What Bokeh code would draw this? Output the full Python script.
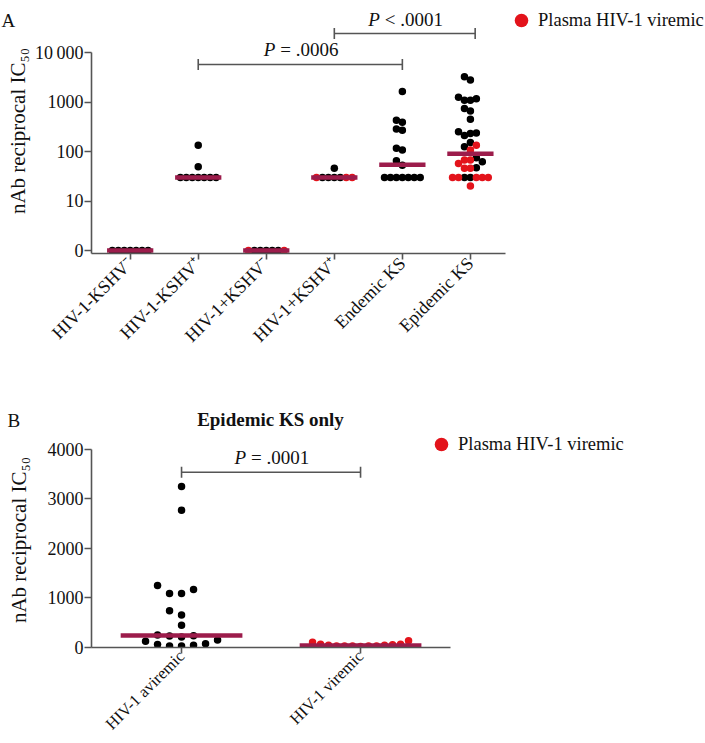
import math
from bokeh.plotting import figure
from bokeh.models import Range1d, FixedTicker, Legend, LegendItem, Label
from bokeh.layouts import column
from bokeh.embed import file_html
from bokeh.resources import INLINE
from bokeh.core.properties import value

FONT = "Liberation Serif"
BLACK = "#000000"
RED = "#E3131B"
MEDIAN = "#9C1C4B"
AXIS = "#555555"
TEXT = "#111111"

# ---------------- data ----------------
categories_top = ["HIV-1-KSHV\u207b", "HIV-1-KSHV\u207a", "HIV-1+KSHV\u207b",
                  "HIV-1+KSHV\u207a", "Endemic KS", "Epidemic KS"]
g0_black = [0, 0, 0, 0, 0, 0, 0]
g0_red = []
g1_black = [30, 30, 30, 30, 30, 30, 30, 133, 49]
g1_red = []
g2_black = [0, 0, 0, 0, 0]
g2_red = [0, 0]
g3_black = [30, 30, 30, 30, 46]
g3_red = [30, 30, 30]
endemic_ks = [1630, 430, 390, 284, 270, 116, 107, 65, 53, 30, 30, 30, 30, 30, 30, 30]
epidemic_aviremic = [3250, 2770, 1250, 1170, 1090, 1090, 740, 655, 450, 250,
                     236, 230, 210, 152, 125, 75, 62, 47, 30, 30]
epidemic_viremic = [134, 107, 67, 67, 57, 46, 46, 30, 30, 30, 30, 30, 20]
medians_top = [0, 30, 0, 30, 54, 90]
top_tick_values = [1, 10, 100, 1000, 10000]
top_tick_labels = ["0", "10", "100", "1000", "10\u2009000"]

categories_bottom = ["HIV-1 aviremic", "HIV-1 viremic"]
medians_bottom = [240, 40]
bottom_tick_values = [0, 1000, 2000, 3000, 4000]

p_top_labels = ["= .0006", "< .0001"]
p_top_from = [1, 3]
p_top_to = [4, 5.07]
p_top_y = [5725, 24200]
p_bottom_labels = ["= .0001"]
p_bottom_from = [0]
p_bottom_to = [1]
p_bottom_y = [3538]

legend_label = "Plasma HIV-1 viremic"
panel_title_bottom = "Epidemic KS only"

# ---------------- geometry helpers ----------------
TOP_CAT_PX = 68.6
TOP_DEC_PX = 49.5
BOT_CAT_PX = 179.0
BOT_UNIT_PX = 0.04975


def swarm(vals, ypx, step_px, thr_px, cat_px, max_px):
    order = sorted(range(len(vals)), key=lambda i: vals[i])
    cands = [0] + [s for j in range(1, 80) for s in (-j, j)]
    placed = []
    slots = [0] * len(vals)
    for i in order:
        y = ypx(vals[i])
        chosen = 0
        for s in cands:
            if all(ps != s or abs(py - y) >= thr_px for ps, py in placed):
                chosen = s
                break
        slots[i] = chosen
        placed.append((chosen, y))
    offs = [s * step_px for s in slots]
    m = max([abs(o) for o in offs] + [0])
    k = min(1.0, max_px / m) if m > 0 else 1.0
    return [o * k / cat_px for o in offs]


def top_ypx(v):
    return math.log10(v) * TOP_DEC_PX if v > 0 else 0.0


def bot_ypx(v):
    return v * BOT_UNIT_PX


def logpos(v):
    return v if v > 0 else 1


def style(p):
    for ax in (p.xaxis[0], p.yaxis[0]):
        ax.axis_line_color = AXIS
        ax.axis_line_width = 1.6
        ax.major_tick_line_color = AXIS
        ax.major_tick_line_width = 1.6
        ax.major_tick_in = 0
        ax.minor_tick_line_color = None
        ax.major_label_text_font = FONT
        ax.major_label_text_color = TEXT
        ax.axis_label_text_font = FONT
        ax.axis_label_text_font_style = "normal"
        ax.axis_label_text_color = TEXT
    p.xgrid.visible = False
    p.ygrid.visible = False
    p.outline_line_color = None
    p.background_fill_color = "white"
    p.border_fill_color = "white"


def add_p_text(p, xs_from, xs_to, ys, labels):
    cx = [(a + b) / 2 for a, b in zip(xs_from, xs_to)]
    p.text(x=cx, y=ys, text=["P"] * len(cx), text_align="right",
           text_baseline="bottom", x_offset=-25, y_offset=-4,
           text_font=value(FONT), text_font_style="italic",
           text_font_size="19px", text_color=TEXT)
    p.text(x=cx, y=ys, text=labels, text_align="left",
           text_baseline="bottom", x_offset=-20, y_offset=-4,
           text_font=value(FONT), text_font_size="19px", text_color=TEXT)


def make_legend(renderer, loc):
    return Legend(items=[LegendItem(label=legend_label, renderers=[renderer])],
                  location=loc, glyph_width=34, glyph_height=38,
                  label_standoff=0, padding=0, margin=0, spacing=0,
                  border_line_color=None, background_fill_alpha=0,
                  label_text_font=FONT, label_text_font_size="18.5px",
                  label_text_color=TEXT, label_height=38)


# ---------------- panel A ----------------
Y0_TOP = 10 ** (-3 / TOP_DEC_PX)
p1 = figure(width=705, height=430, output_backend="svg", toolbar_location=None,
            x_range=Range1d(-0.5685, 8.455),
            y_range=Range1d(Y0_TOP, 10 ** 4.8889),
            y_axis_type="log",
            min_border_left=86, min_border_right=0, min_border_top=8,
            min_border_bottom=177)
style(p1)

groups_top = [(g0_black, g0_red), (g1_black, g1_red), (g2_black, g2_red),
              (g3_black, g3_red), (endemic_ks, []),
              (epidemic_aviremic, epidemic_viremic)]
red_renderer = None
for i, (blk, red) in enumerate(groups_top):
    vals = blk + red
    offs = swarm(vals, top_ypx, 6, 7, TOP_CAT_PX, 18)
    nb = len(blk)
    p1.scatter([i + o for o in offs[:nb]], [logpos(v) for v in blk],
               size=7.5, fill_color=BLACK, line_color=None)
    if red:
        r = p1.scatter([i + o for o in offs[nb:]], [logpos(v) for v in red],
                       size=7.5, fill_color=RED, line_color=None)
        red_renderer = r

p1.segment(x0=[i - 0.34 for i in range(len(medians_top))],
           x1=[i + 0.34 for i in range(len(medians_top))],
           y0=[logpos(m) for m in medians_top], y1=[logpos(m) for m in medians_top],
           line_color=MEDIAN, line_width=4.5)

capf = 10 ** (5.5 / TOP_DEC_PX)
p1.segment(x0=p_top_from, x1=p_top_to, y0=p_top_y, y1=p_top_y,
           line_color=AXIS, line_width=1.6)
p1.segment(x0=p_top_from + p_top_to, x1=p_top_from + p_top_to,
           y0=[y / capf for y in p_top_y] * 2, y1=[y * capf for y in p_top_y] * 2,
           line_color=AXIS, line_width=1.6)
add_p_text(p1, p_top_from, p_top_to, p_top_y, p_top_labels)

p1.xaxis.ticker = FixedTicker(ticks=list(range(len(categories_top))))
p1.xaxis.major_label_overrides = {i: c for i, c in enumerate(categories_top)}
p1.xaxis.bounds = (-0.5685, 5.51)
p1.xaxis.major_label_orientation = math.pi / 4
p1.xaxis.major_label_text_font_size = "18px"
p1.xaxis.major_tick_out = 6
p1.xaxis.major_label_standoff = 1

p1.yaxis.ticker = FixedTicker(ticks=top_tick_values)
p1.yaxis.major_label_overrides = dict(zip(top_tick_values, top_tick_labels))
p1.yaxis.bounds = (Y0_TOP, 10000)
p1.yaxis.major_label_text_font_size = "18px"
p1.yaxis.major_tick_out = 7
p1.yaxis.major_label_standoff = 1
p1.yaxis.axis_label = "nAb reciprocal IC\u2085\u2080"
p1.yaxis.axis_label_text_font_size = "21px"
p1.yaxis.axis_label_standoff = 2

p1.add_layout(make_legend(red_renderer, (413, 214)))

# panel letters and the lower panel's heading, placed in canvas pixels
p1.add_layout(Label(x=1, y=20, x_units="canvas", y_units="canvas", text="A",
                    text_font=FONT, text_font_size="19px", text_color=TEXT,
                    text_baseline="alphabetic"), "below")
p1.add_layout(Label(x=7, y=420, x_units="canvas", y_units="canvas", text="B",
                    text_font=FONT, text_font_size="19px", text_color=TEXT,
                    text_baseline="alphabetic"), "below")
p1.add_layout(Label(x=270, y=419, x_units="canvas", y_units="canvas",
                    text=panel_title_bottom, text_align="center",
                    text_font=FONT, text_font_size="19px", text_font_style="bold",
                    text_color=TEXT, text_baseline="alphabetic"), "below")

# ---------------- panel B ----------------
BOT_TOP_VAL = (648 - 432) / BOT_UNIT_PX
p2 = figure(width=705, height=313, output_backend="svg", toolbar_location=None,
            x_range=Range1d(-0.503, 2.927), y_range=Range1d(0, BOT_TOP_VAL),
            min_border_left=91, min_border_right=0, min_border_top=2,
            min_border_bottom=95)
style(p2)

groups_bottom = [(epidemic_aviremic, BLACK), (epidemic_viremic, RED)]
red_renderer2 = None
for i, (vals, col) in enumerate(groups_bottom):
    offs = swarm(vals, bot_ypx, 12, 8, BOT_CAT_PX, 48)
    r = p2.scatter([i + o for o in offs], vals, size=7.5, fill_color=col, line_color=None)
    if col == RED:
        red_renderer2 = r

p2.segment(x0=[i - 0.34 for i in range(len(medians_bottom))],
           x1=[i + 0.34 for i in range(len(medians_bottom))],
           y0=medians_bottom, y1=medians_bottom, line_color=MEDIAN, line_width=4.5)

cap2 = 5.5 / BOT_UNIT_PX
p2.segment(x0=p_bottom_from, x1=p_bottom_to, y0=p_bottom_y, y1=p_bottom_y,
           line_color=AXIS, line_width=1.6)
p2.segment(x0=p_bottom_from + p_bottom_to, x1=p_bottom_from + p_bottom_to,
           y0=[y - cap2 for y in p_bottom_y] * 2, y1=[y + cap2 for y in p_bottom_y] * 2,
           line_color=AXIS, line_width=1.6)
add_p_text(p2, p_bottom_from, p_bottom_to, p_bottom_y, p_bottom_labels)

p2.xaxis.ticker = FixedTicker(ticks=list(range(len(categories_bottom))))
p2.xaxis.major_label_overrides = {i: c for i, c in enumerate(categories_bottom)}
p2.xaxis.bounds = (-0.503, 1.503)
p2.xaxis.major_label_orientation = math.pi / 4
p2.xaxis.major_label_text_font_size = "16.5px"
p2.xaxis.major_tick_out = 6
p2.xaxis.major_label_standoff = 0

p2.yaxis.ticker = FixedTicker(ticks=bottom_tick_values)
p2.yaxis.bounds = (0, 4000)
p2.yaxis.major_label_text_font_size = "18px"
p2.yaxis.major_tick_out = 7
p2.yaxis.major_label_standoff = 1
p2.yaxis.axis_label = "nAb reciprocal IC\u2085\u2080"
p2.yaxis.axis_label_text_font_size = "21px"
p2.yaxis.axis_label_standoff = 14

p2.add_layout(make_legend(red_renderer2, (333, 184)))

layout = column(p1, p2, spacing=0)
open("out.html", "w").write(file_html(layout, INLINE))
